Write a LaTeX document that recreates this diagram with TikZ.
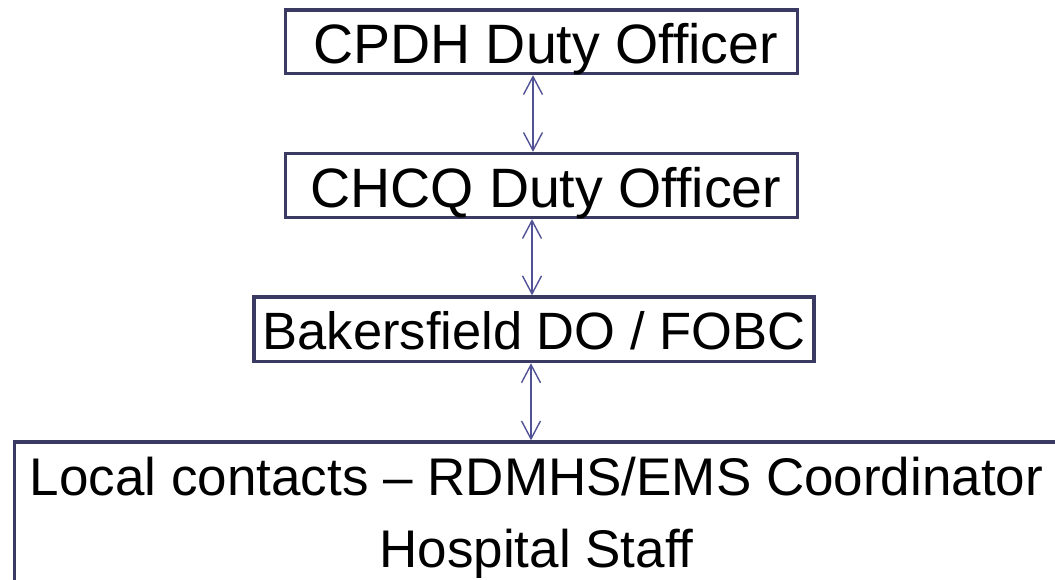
\documentclass[tikz,border=0pt]{standalone}
\usepackage{fontspec}
\setmainfont{Liberation Sans}
\usetikzlibrary{arrows.meta}
\definecolor{boxline}{RGB}{58,58,98}
\definecolor{arrline}{RGB}{82,82,150}
\tikzset{
  orgbox/.style={draw=boxline, line width=3.2pt, inner sep=0pt, align=center},
  linkarrow/.style={draw=arrline, line width=1.4pt,
    {Straight Barb[length=18pt,width=19pt,line width=1.4pt]}-{Straight Barb[length=18pt,width=19pt,line width=1.4pt]}}
}
\begin{document}
\begin{tikzpicture}[x=1pt,y=-1pt]
\useasboundingbox (0,0) rectangle (1055,580);
\node[orgbox, minimum width=512pt, minimum height=63.5pt, text height=44pt, text depth=0pt,
  font=\fontsize{55.5}{60}\selectfont] (cpdh) at (541.7,41.75) {\hspace*{8pt}CPDH Duty Officer};
\node[orgbox, minimum width=512pt, minimum height=64pt, text height=44pt, text depth=0pt,
  font=\fontsize{55.5}{60}\selectfont] (chcq) at (541.7,185.5) {\hspace*{8pt}CHCQ Duty Officer};
\node[orgbox, minimum width=560pt, minimum height=64.7pt, text height=41pt, text depth=0pt,
  font=\fontsize{52.5}{60}\selectfont] (bak) at (534,329.3) {Bakersfield DO / FOBC};
\node[orgbox, minimum width=1044.4pt, minimum height=178pt, text height=72pt, text depth=0pt,
  font=\fontsize{53}{72}\selectfont] (local) at (536.5,531) {Local contacts -- RDMHS/EMS Coordinator\\Hospital Staff};
\coordinate (ax1) at (533,0);
\coordinate (ax2) at (532,0);
\coordinate (ax3) at (531,0);
\draw[linkarrow] (cpdh.south -| ax1) -- (chcq.north -| ax1);
\draw[linkarrow] (chcq.south -| ax2) -- (bak.north -| ax2);
\draw[linkarrow] (bak.south -| ax3) -- (local.north -| ax3);
\end{tikzpicture}
\end{document}
